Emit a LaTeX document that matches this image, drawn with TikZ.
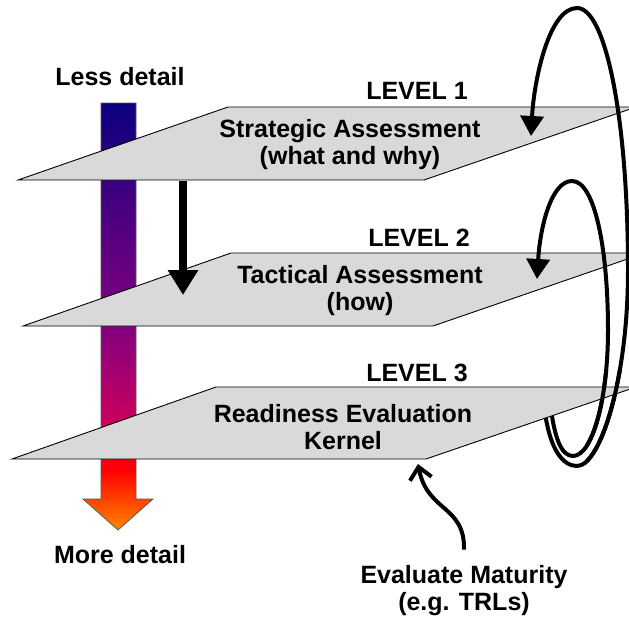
\documentclass[tikz,border=0pt]{standalone}
\usepackage{fontspec}
\setmainfont{Liberation Sans}
\usetikzlibrary{arrows.meta}
\definecolor{dorange}{RGB}{255,135,0}
\definecolor{dred}{RGB}{255,0,0}
\definecolor{dmag}{RGB}{200,0,95}
\definecolor{dpurp}{RGB}{135,0,125}
\definecolor{dblue}{RGB}{70,0,128}
\definecolor{dnavy}{RGB}{10,0,128}
\definecolor{planegray}{RGB}{217,217,217}
\pgfdeclareverticalshading{detailshade}{100bp}{color(0bp)=(dorange); color(25bp)=(dorange); color(32bp)=(dred); color(38bp)=(dmag); color(48bp)=(dpurp); color(63bp)=(dblue); color(75bp)=(dnavy); color(100bp)=(dnavy)}
\tikzset{
  plane/.style={fill=planegray, draw=black, line width=0.9pt},
  lbl/.style={font=\fontsize{25}{27}\selectfont\bfseries, align=center, inner sep=0pt},
  loopline/.style={line width=4pt, -{Triangle[length=20pt,width=23pt]}},
  loopplain/.style={line width=4pt},
}
\begin{document}
\begin{tikzpicture}[x=1pt, y=-1pt]
\useasboundingbox (0,0) rectangle (629,618);
\clip (0,0) rectangle (629,618);
% gradient arrow
\coordinate (gtop) at (118,103);
\coordinate (gtip) at (118,530);
\path[shading=detailshade, draw=black!65, line width=0.8pt]
  (101,103) -- (136,103) -- (136,499) -- (153,499) -- (gtip) -- (83,499) -- (101,499) -- cycle;
% planes 1 and 2
\path[plane] (228,107) coordinate (p1tl) -- (636,107) coordinate (p1tr) -- (424,180) coordinate (p1br) -- (18,180) coordinate (p1bl) -- cycle;
\path[plane] (231,253) coordinate (p2tl) -- (645,253) coordinate (p2tr) -- (433,326) coordinate (p2br) -- (23,326) coordinate (p2bl) -- cycle;
% down arrow
\coordinate (dstart) at (183,181);
\coordinate (dend) at (183,295);
\draw[line width=8pt, -{Triangle[length=25pt,width=29pt]}] (dstart) -- (dend);
% loops
\coordinate (bigstart) at (544,405);
\coordinate (bigbot) at (577,466);
\coordinate (bigright) at (628,270);
\coordinate (bigtop) at (577,8);
\coordinate (bigtip) at (531,136);
\coordinate (smstart) at (550,400);
\coordinate (smbot) at (573,456);
\coordinate (smright) at (608,330);
\coordinate (smtop) at (572,181);
\coordinate (smtip) at (537,279);
\draw[loopline] (bigstart) .. controls (549,450) and (563,466) .. (bigbot)
  .. controls (600,466) and (628,380) .. (bigright)
  .. controls (628,120) and (606,8) .. (bigtop)
  .. controls (549,8) and (534,80) .. (bigtip);
\draw[loopline] (smstart) .. controls (554,440) and (562,456) .. (smbot)
  .. controls (592,456) and (608,400) .. (smright)
  .. controls (608,250) and (595,181) .. (smtop)
  .. controls (551,181) and (540,228) .. (smtip);
% plane 3
\path[plane] (216,387) coordinate (p3tl) -- (636,387) coordinate (p3tr) -- (426,459) coordinate (p3br) -- (12,459) coordinate (p3bl) -- cycle;
% loop parts over plane 3
\begin{scope}
\clip (585,370) rectangle (629,480);
\draw[loopplain] (bigstart) .. controls (549,450) and (563,466) .. (bigbot)
  .. controls (600,466) and (628,380) .. (bigright);
\draw[loopplain] (smstart) .. controls (554,440) and (562,456) .. (smbot)
  .. controls (592,456) and (608,400) .. (smright);
\end{scope}
% labels
\node[lbl] (less) at (120,77) {Less detail};
\node[lbl] (more) at (120,555) {More detail};
\node[lbl] (lev1) at (417,91) {LEVEL 1};
\node[lbl] (lev2) at (419,238) {LEVEL 2};
\node[lbl] (lev3) at (417,373) {LEVEL 3};
\node[lbl] (strat) at (350,145) {Strategic Assessment\\(what and why)};
\node[lbl] (tact) at (360,291) {Tactical Assessment\\(how)};
\node[lbl] (ready) at (343,427) {Readiness Evaluation\\Kernel};
\node[lbl] (evalm) at (464,591) {Evaluate Maturity\\(e.g. TRLs)};
% evaluate arrow
\coordinate (evtip) at (418,464);
\draw[line width=4pt, -{Straight Barb[length=12pt,width=22pt]}] (evalm.north) ++(0,-16) coordinate (evstart)
  .. controls (465,505) and (427,512) .. (evtip);
\end{tikzpicture}
\end{document}
